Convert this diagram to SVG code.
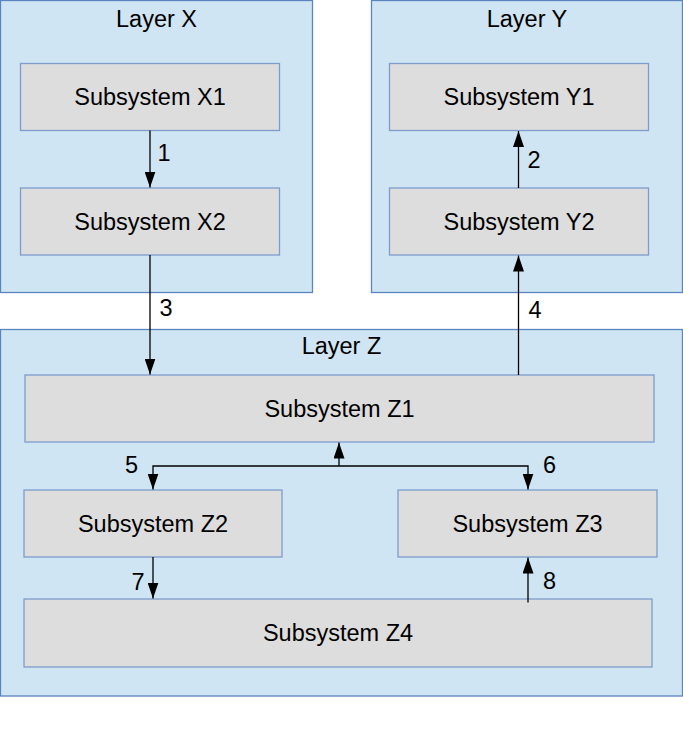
<svg xmlns="http://www.w3.org/2000/svg" width="683" height="736" viewBox="0 0 683 736">
<style>
.layer{fill:#cfe5f3;stroke:#5a84c0;stroke-width:1.3}
.node{fill:#dddddd;stroke:#7d9ccb;stroke-width:1.3}
.t{font-family:"Liberation Sans",Arial,sans-serif;font-size:23.5px;fill:#000;text-anchor:middle}
.c{fill:none;stroke:#000;stroke-width:1.3}
</style>
<defs>
<marker id="arr" viewBox="0 0 16 11" markerWidth="16" markerHeight="11" refX="16" refY="5.5" orient="auto" markerUnits="userSpaceOnUse">
<path d="M0,0 L16,5.5 L0,11 z" fill="#000"/>
</marker>
</defs>
<g id="layerX"><rect class="layer" x="0.5" y="0.5" width="312" height="292"/><text class="t" x="156.5" y="27">Layer X</text></g>
<g id="layerY"><rect class="layer" x="371.5" y="0.5" width="311" height="292"/><text class="t" x="527" y="27">Layer Y</text></g>
<g id="layerZ"><rect class="layer" x="0.5" y="329.5" width="682" height="366.5"/><text class="t" x="341.5" y="354">Layer Z</text></g>
<g id="X1"><rect class="node" x="20.5" y="63.5" width="259" height="67"/><text class="t" x="150" y="105">Subsystem X1</text></g>
<g id="X2"><rect class="node" x="20.5" y="188" width="259" height="67"/><text class="t" x="150" y="229.5">Subsystem X2</text></g>
<g id="Y1"><rect class="node" x="389.5" y="63.5" width="259" height="67"/><text class="t" x="519" y="105">Subsystem Y1</text></g>
<g id="Y2"><rect class="node" x="389.5" y="188" width="259" height="67"/><text class="t" x="519" y="229.5">Subsystem Y2</text></g>
<g id="Z1"><rect class="node" x="25" y="375" width="629" height="67"/><text class="t" x="339.5" y="416.5">Subsystem Z1</text></g>
<g id="Z2"><rect class="node" x="24" y="490" width="258" height="67"/><text class="t" x="153" y="531.5">Subsystem Z2</text></g>
<g id="Z3"><rect class="node" x="398" y="490" width="259" height="67"/><text class="t" x="527.5" y="531.5">Subsystem Z3</text></g>
<g id="Z4"><rect class="node" x="24" y="599" width="628" height="68"/><text class="t" x="338" y="641">Subsystem Z4</text></g>
<g id="connectors">
<path class="c" d="M150,130.5 L150,187.5" marker-end="url(#arr)"/>
<path class="c" d="M518.5,188 L518.5,131" marker-end="url(#arr)"/>
<path class="c" d="M150,255 L150,374.5" marker-end="url(#arr)"/>
<path class="c" d="M518.5,375 L518.5,255.5" marker-end="url(#arr)"/>
<path class="c" d="M339,466 L339,442.5" marker-end="url(#arr)"/>
<path class="c" d="M339,466 L153,466 L153,489.5" marker-end="url(#arr)"/>
<path class="c" d="M339,466 L528,466 L528,489.5" marker-end="url(#arr)"/>
<path class="c" d="M153,557 L153,598.5" marker-end="url(#arr)"/>
<path class="c" d="M528,602.5 L528,557.5" marker-end="url(#arr)"/>
<text class="t" x="164" y="161">1</text>
<text class="t" x="534" y="168">2</text>
<text class="t" x="166" y="316">3</text>
<text class="t" x="535" y="318">4</text>
<text class="t" x="131.5" y="473">5</text>
<text class="t" x="549.5" y="473">6</text>
<text class="t" x="138" y="590">7</text>
<text class="t" x="549.5" y="589">8</text>
</g>
</svg>
